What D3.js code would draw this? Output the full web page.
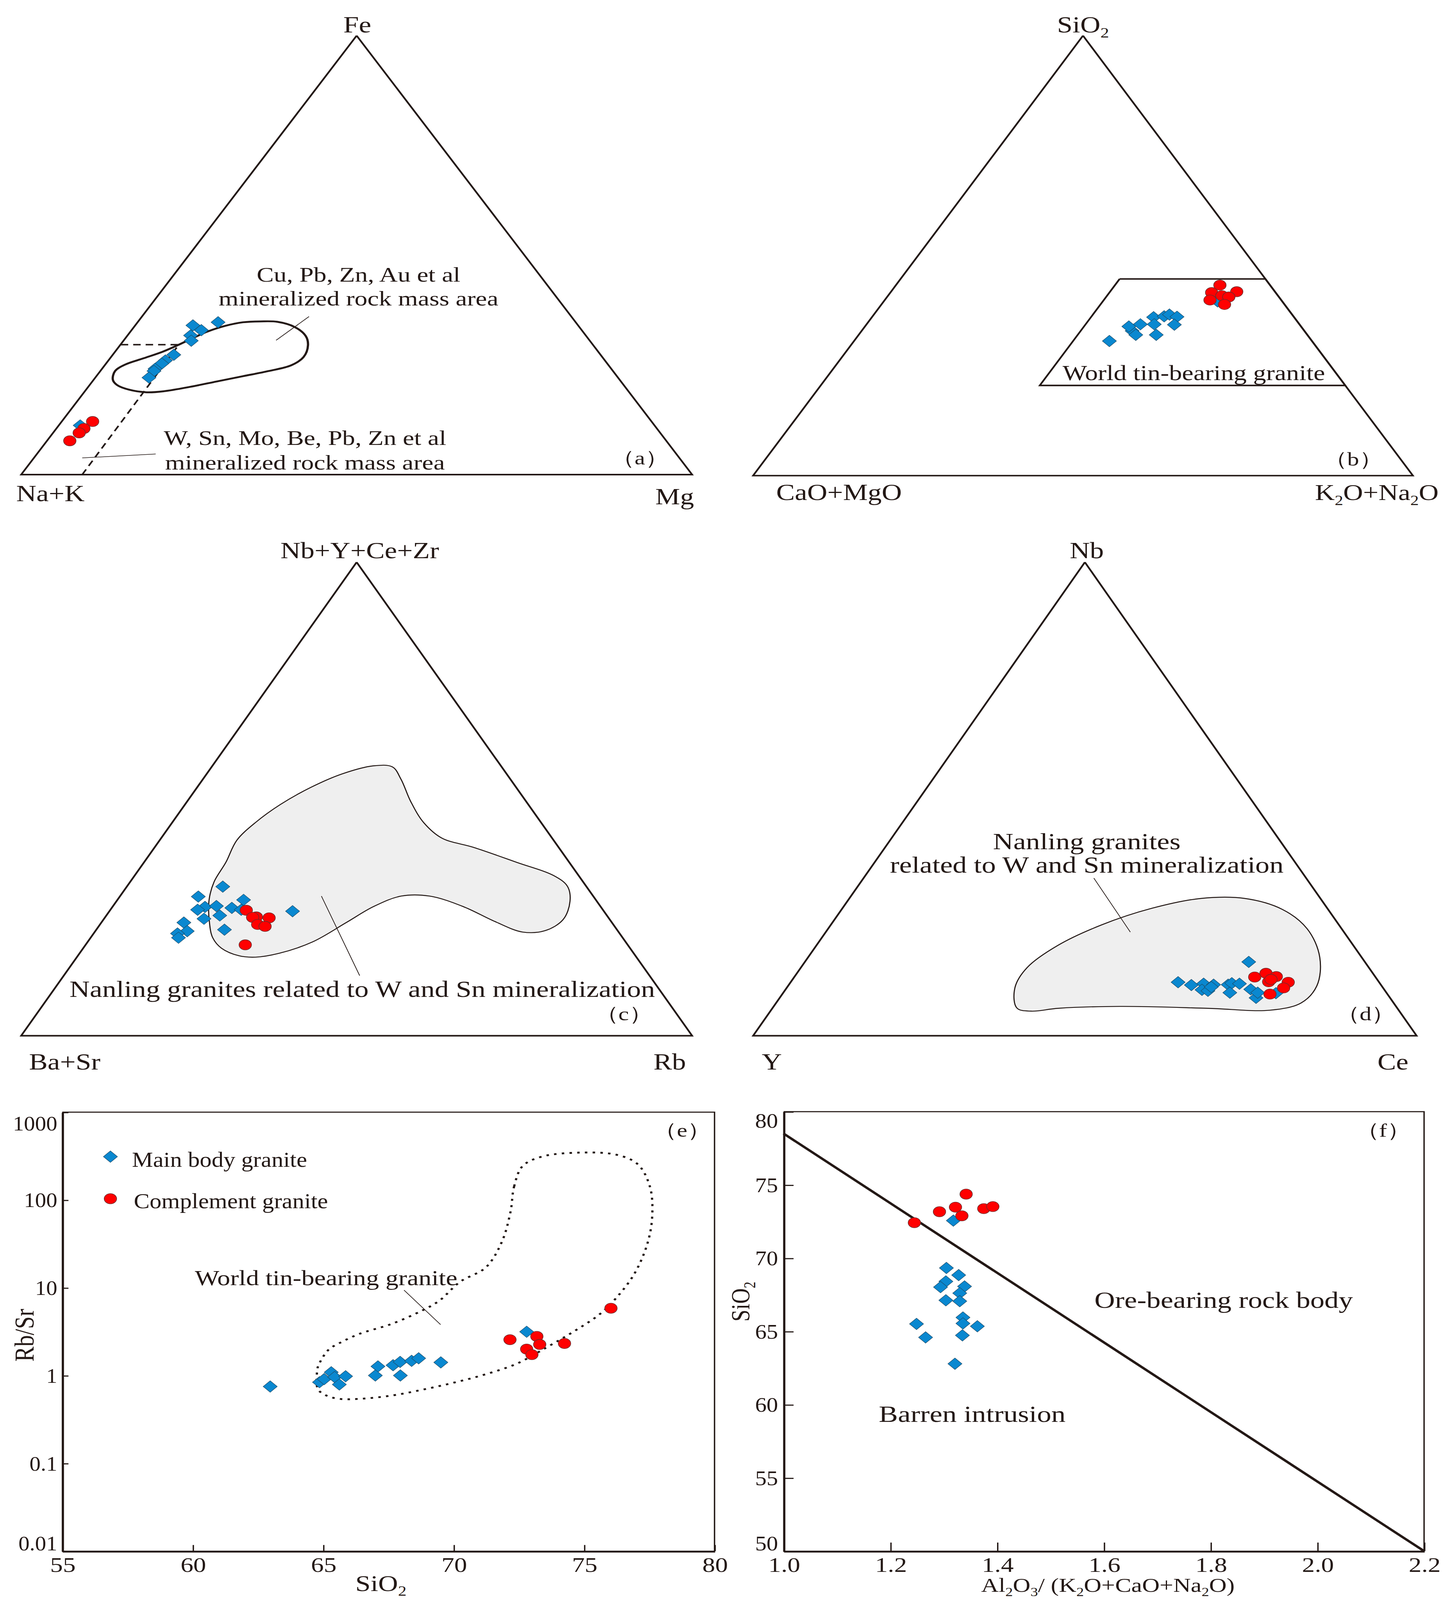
<!DOCTYPE html>
<meta charset="utf-8">
<style>
    html, body { margin: 0; padding: 0; background: #fff; overflow: hidden; }
    svg { display: block; width: 100vw; height: 100vh; }
    svg text { font-family: "Liberation Serif", "Times New Roman", serif; fill: #231815; }
</style>
<body>
<script src="https://cdn.jsdelivr.net/npm/d3@7"></script>
<script>
    // ternary data are stored as [top %, right %]; left = 100 - top - right

    // (a) Fe - (Na+K) - Mg : [Fe, Mg]
    var aMain = [[34.0, 8.6], [34.7, 12.0], [32.9, 10.4], [31.7, 9.4], [30.5, 10.1], [27.3, 9.1],
        [26.0, 8.5], [25.3, 8.3], [24.1, 7.9], [23.6, 8.0], [22.1, 8.0], [11.2, 3.2]];
    var aComp = [[12.1, 4.6], [10.5, 4.1], [9.5, 3.9], [7.7, 3.4]];
    var aField = [[23.6, 2.2], [25.1, 3.0], [26.5, 5.0], [28.0, 7.1], [29.6, 8.7], [31.4, 10.3], [32.6, 11.5],
        [33.9, 13.5], [34.7, 15.7], [34.9, 18.2], [34.8, 20.8], [33.6, 24.0], [31.6, 26.6], [29.5, 28.0],
        [26.8, 28.7], [24.9, 27.8], [23.6, 25.1], [22.4, 21.8], [21.2, 18.5], [20.0, 15.2], [19.0, 11.8],
        [18.75, 9.35], [19.35, 6.4], [20.4, 4.1], [21.55, 2.9]];
    var aDivide = [[0, 9.1], [29.6, 8.7], [29.6, 0]];
    var aLeaders = [[[30.6, 22.7], [36.0, 24.9]], [[3.8, 7.2], [4.7, 17.7]]];

    // (b) SiO2 - (CaO+MgO) - (K2O+Na2O) : [SiO2, K2O+Na2O]
    var bMain = [[30.6, 38.7], [32.9, 41.0], [32.0, 42.0], [33.9, 40.0], [34.4, 41.5], [36.0, 42.7], [34.4, 43.6],
        [32.0, 45.1], [36.2, 44.2], [36.6, 44.8], [36.1, 46.2], [34.3, 46.7], [39.6, 50.6]];
    var bComp = [[43.3, 49.1], [41.6, 48.7], [41.8, 52.4], [40.9, 50.6], [40.6, 51.8], [39.9, 49.3], [38.9, 52.0]];
    var bField = [[44.7, 33.2], [44.7, 55.3], [20.5, 79.5], [20.5, 33.2]];

    // (c) (Nb+Y+Ce+Zr) - (Ba+Sr) - Rb : [Nb+Y+Ce+Zr, Rb]
    var cMain = [[31.5, 14.3], [29.4, 11.7], [27.2, 13.8], [26.6, 13.0], [27.4, 15.4], [27.0, 17.9], [28.7, 18.8],
        [26.6, 19.5], [25.4, 16.9], [24.7, 14.9], [23.9, 12.3], [22.1, 13.7], [21.6, 12.5], [20.7, 13.1],
        [22.4, 19.1], [26.3, 27.3]];
    var cComp = [[26.5, 20.3], [25.1, 22.5], [25.0, 22.0], [24.9, 24.5], [23.5, 23.5], [23.1, 24.8], [19.2, 23.8]];
    var cField = [[36.6, 12.2], [41.3, 11.5], [45.0, 12.4], [48.8, 14.2], [52.5, 17.0], [55.3, 20.2], [57.0, 24.0],
        [56.8, 26.9], [54.2, 29.5], [49.5, 33.3], [45.0, 37.5], [41.7, 41.9], [39.8, 47.5], [36.6, 55.6],
        [33.8, 62.5], [31.6, 65.6], [28.4, 67.6], [24.5, 68.5], [22.2, 67.0], [21.9, 63.8], [24.1, 58.6],
        [27.3, 52.2], [29.5, 46.1], [29.5, 41.9], [27.3, 38.9], [23.9, 36.5], [19.8, 33.5], [17.4, 29.7],
        [16.6, 26.6], [16.9, 24.0], [18.5, 20.6], [20.7, 18.2], [24.1, 16.0], [28.6, 13.7], [32.5, 12.5]];
    var cLeader = [[29.5, 30.0], [12.7, 44.1]];

    // (d) Nb - Y - Ce : [Nb, Ce]
    var dMain = [[15.6, 66.9], [11.3, 58.4], [10.7, 60.7], [11.0, 62.4], [9.7, 62.8], [9.5, 63.8], [10.8, 64.0],
        [10.3, 63.9], [10.8, 66.2], [11.1, 66.6], [11.0, 67.8], [9.1, 67.3], [9.8, 70.1], [8.0, 71.8],
        [9.1, 71.5], [9.0, 74.3]];
    var dComp = [[12.4, 69.4], [13.2, 70.7], [12.5, 72.6], [11.4, 72.0], [11.9, 72.1], [11.3, 75.0], [10.1, 74.9], [8.8, 73.5]];
    var dField = [[5.8, 36.9], [10.1, 34.4], [14.4, 34.1], [19.1, 36.4], [23.4, 40.8], [26.9, 46.6], [29.0, 53.0],
        [29.0, 59.6], [26.7, 66.4], [22.6, 72.2], [16.6, 77.1], [10.5, 79.7], [6.9, 79.1], [5.4, 75.2],
        [5.8, 65.6], [6.2, 52.2], [5.8, 43.1], [5.2, 39.3]];
    var dLeader = [[33.3, 34.7], [21.9, 45.9]];

    // (e) SiO2 vs Rb/Sr
    var eSiO2Main = [62.97, 64.86, 65.04, 65.31, 65.44, 65.86, 65.62, 67.1, 67.0, 67.68, 67.95, 68.39, 68.66, 67.96, 69.51, 72.8];
    var eRbSrMain = [0.75, 0.84, 0.91, 1.09, 0.96, 0.98, 0.79, 1.27, 1.0, 1.31, 1.43, 1.47, 1.57, 1.0, 1.41, 3.15];
    var eSiO2Comp = [72.16, 73.19, 73.3, 72.8, 73.0, 74.25, 76.03];
    var eRbSrComp = [2.56, 2.79, 2.26, 2.0, 1.73, 2.32, 5.84];
    var eField = [[72.65, 244], [72.32, 143], [72.18, 73], [71.84, 32.9], [71.22, 16.9], [70.25, 11.7], [69.45, 7.11],
        [68.81, 5.53], [67.6, 3.85], [66.4, 2.99], [65.6, 2.32], [65.2, 1.96], [64.8, 1.26], [64.76, 1.06],
        [64.8, 0.70], [65.08, 0.60], [65.6, 0.543], [66.4, 0.543], [67.6, 0.59], [68.81, 0.69], [70.01, 0.83],
        [71.21, 1.03], [72.41, 1.36], [73.62, 2.14], [74.66, 3.25], [75.63, 5.08], [76.35, 8.4], [76.95, 14.8],
        [77.42, 31.3], [77.61, 64.3], [77.52, 143], [77.04, 258], [76.23, 328], [74.8, 346], [73.37, 311]];
    var eLeader = [[68.1, 9.4], [69.5, 3.8]];
    var eXTicks = [55, 60, 65, 70, 75, 80];
    var eYTicks = [0.01, 0.1, 1, 10, 100, 1000];
    var eYLabels = ["0.01", "0.1", "1", "10", "100", "1000"];

    // (f) A/CNK vs SiO2
    var fRatioMain = [1.318, 1.305, 1.328, 1.304, 1.294, 1.339, 1.33, 1.304, 1.33, 1.336, 1.336, 1.249, 1.363, 1.266, 1.335, 1.321];
    var fSiO2Main = [72.56, 69.33, 68.84, 68.41, 68.02, 68.07, 67.61, 67.12, 67.06, 65.95, 65.54, 65.51, 65.35, 64.59, 64.73, 62.79];
    var fRatioComp = [1.342, 1.292, 1.322, 1.334, 1.375, 1.392, 1.245];
    var fSiO2Comp = [74.37, 73.17, 73.48, 72.89, 73.38, 73.52, 72.42];
    var fLineX = [1.0, 2.2];
    var fLineY = [78.5, 50];
    var fXTicks = [1.0, 1.2, 1.4, 1.6, 1.8, 2.0, 2.2];
    var fXLabels = ["1.0", "1.2", "1.4", "1.6", "1.8", "2.0", "2.2"];
    var fYTicks = [50, 55, 60, 65, 70, 75, 80];

    /* drawing */
    var W = 1160, H = 1571;
    var ink = "#231815", blue = "#0a88d0", red = "#ff0000";

    // the drawing always fills the whole window, like the reference sheet
    var svg = d3.select("body").append("svg")
        .attr("viewBox", "0 0 " + W + " " + H)
        .attr("preserveAspectRatio", "none");

    svg.append("rect").attr("width", W).attr("height", H).attr("fill", "#fff");

    var diamond = d3.symbol().type(d3.symbolSquare).size(64)();
    var smooth = d3.curveCatmullRomClosed.alpha(0.5);

    function ternary(frame) {
        var x = d3.scaleLinear().domain([0, 100]).range([frame.xL, frame.xR]);
        var y = d3.scaleLinear().domain([0, 100]).range([frame.yBase, frame.yTop]);
        return function (d) { return [x(d[1] + d[0] / 2), y(d[0])]; };
    }

    function label(x, y, str, size, anchor) {
        return svg.append("text")
            .attr("x", x).attr("y", y)
            .attr("font-size", size)
            .attr("text-anchor", anchor || "middle")
            .text(str);
    }

    // narrow the glyphs a little, the source uses a condensed Times
    function condense(sel, k) {
        sel.each(function () {
            var n = this.getComputedTextLength();
            d3.select(this).attr("textLength", n * k).attr("lengthAdjust", "spacingAndGlyphs");
        });
    }

    // parts starting with "_" are subscripts
    function chem(x, y, parts, size, anchor) {
        var t = svg.append("text")
            .attr("x", x).attr("y", y)
            .attr("font-size", size)
            .attr("text-anchor", anchor || "middle");
        var shift = size * 0.22;
        parts.forEach(function (p, i) {
            if (p.charAt(0) === "_") {
                t.append("tspan").attr("dy", shift).attr("font-size", size * 0.62).text(p.slice(1));
            } else {
                var ts = t.append("tspan").text(p);
                if (i > 0) ts.attr("dy", -shift);
            }
        });
        return t;
    }

    function points(proj, main, comp) {
        svg.append("g").selectAll("path")
            .data(main).enter().append("path")
            .attr("d", diamond)
            .attr("transform", function (d) {
                var p = proj(d);
                return "translate(" + p[0] + "," + p[1] + ") rotate(45)";
            })
            .attr("fill", blue)
            .attr("stroke", "#1b4a66")
            .attr("stroke-width", 0.4);
        svg.append("g").selectAll("circle")
            .data(comp).enter().append("circle")
            .attr("cx", function (d) { return proj(d)[0]; })
            .attr("cy", function (d) { return proj(d)[1]; })
            .attr("r", 5)
            .attr("fill", red)
            .attr("stroke", "#6b2c2c")
            .attr("stroke-width", 0.5);
    }

    function line(proj, data, width) {
        return svg.append("path")
            .attr("d", d3.line().x(function (d) { return proj(d)[0]; }).y(function (d) { return proj(d)[1]; })(data))
            .attr("fill", "none")
            .attr("stroke", ink)
            .attr("stroke-width", width);
    }

    function triangle(proj) {
        line(proj, [[100, 0], [0, 0], [0, 100], [100, 0]], 1.5).attr("stroke-linejoin", "miter");
    }

    function field(proj, data, fill, width) {
        return svg.append("path")
            .attr("d", d3.line().curve(smooth)
                .x(function (d) { return proj(d)[0]; })
                .y(function (d) { return proj(d)[1]; })(data))
            .attr("fill", fill)
            .attr("stroke", ink)
            .attr("stroke-width", width);
    }

    // ---- (a) ----
    var pa = ternary({xL: 17, xR: 556, yBase: 466, yTop: 35});
    triangle(pa);
    field(pa, aField, "none", 1.8);
    line(pa, aDivide, 1.4).attr("stroke-dasharray", "6,4");
    aLeaders.forEach(function (l) { line(pa, l, 0.6); });
    points(pa, aMain, aComp);
    label(287, 32, "Fe", 22.4);
    label(40.5, 492, "Na+K", 22.4);
    label(542, 495, "Mg", 22.4);
    label(514, 456, "（a）", 19);
    label(288, 276.5, "Cu, Pb, Zn, Au et al", 20.6);
    label(288, 300, "mineralized rock mass area", 20.6);
    label(245, 437, "W, Sn, Mo, Be, Pb, Zn et al", 20.6);
    label(245, 461, "mineralized rock mass area", 20.6);

    // ---- (b) ----
    var pb = ternary({xL: 605, xR: 1135, yBase: 467, yTop: 35});
    triangle(pb);
    line(pb, bField.concat([bField[0]]), 1.5);
    points(pb, bMain, bComp);
    chem(870, 32, ["SiO", "_2"], 22.4);
    label(674, 491, "CaO+MgO", 22.4);
    chem(1106, 491, ["K", "_2", "O+Na", "_2", "O"], 22);
    label(1087, 457, "（b）", 19);
    label(959, 373, "World tin-bearing granite", 20.8);

    // ---- (c) ----
    var pc = ternary({xL: 17, xR: 556, yBase: 1017, yTop: 552});
    triangle(pc);
    field(pc, cField, "#efefef", 0.9);
    line(pc, cLeader, 0.6);
    points(pc, cMain, cComp);
    label(289, 548, "Nb+Y+Ce+Zr", 22.4);
    label(52, 1050, "Ba+Sr", 22.4);
    label(538, 1050, "Rb", 22.4);
    label(501, 1002, "（c）", 19);
    label(291, 979, "Nanling granites related to W and Sn mineralization", 22.6);

    // ---- (d) ----
    var pd = ternary({xL: 605, xR: 1138, yBase: 1017, yTop: 552});
    triangle(pd);
    field(pd, dField, "#efefef", 0.9);
    line(pd, dLeader, 0.6);
    points(pd, dMain, dComp);
    label(873, 548, "Nb", 22.4);
    label(620, 1050, "Y", 22.4);
    label(1119, 1050, "Ce", 22.4);
    label(1097, 1002, "（d）", 19);
    label(873, 834, "Nanling granites", 22.7);
    label(873, 857, "related to W and Sn mineralization", 22.7);

    // ---- (e) ----
    var ex = d3.scaleLinear().domain([55, 80]).range([50, 574]);
    var ey = d3.scaleLog().domain([0.01, 1000]).range([1523, 1092]);
    var pe = function (d) { return [ex(d[0]), ey(d[1])]; };

    svg.append("path")
        .attr("d", "M" + ex(55) + "," + ey(1000) + "H" + ex(80) + "V" + ey(0.01))
        .attr("fill", "none").attr("stroke", ink).attr("stroke-width", 1.1);

    var exAxis = svg.append("g")
        .attr("transform", "translate(0," + ey(0.01) + ")")
        .call(d3.axisBottom(ex).tickValues(eXTicks).tickFormat(d3.format("d"))
            .tickSizeInner(-6).tickSizeOuter(0).tickPadding(6));
    var eyAxis = svg.append("g")
        .attr("transform", "translate(" + ex(55) + ",0)")
        .call(d3.axisLeft(ey).tickValues(eYTicks).tickFormat(function (d, i) { return eYLabels[i]; })
            .tickSizeInner(-5).tickSizeOuter(0).tickPadding(4));

    field(pe, eField, "none", 1.8).attr("stroke-dasharray", "2,4.2").attr("stroke-linecap", "butt");
    line(pe, eLeader, 0.6);
    points(pe, d3.zip(eSiO2Main, eRbSrMain), d3.zip(eSiO2Comp, eRbSrComp));

    chem(306, 1562, ["SiO", "_2"], 22);
    label(27, 1311, "Rb/Sr", 22.2).attr("transform", "rotate(-90,27,1311)");
    label(548, 1116, "（e）", 19);
    label(262, 1262, "World tin-bearing granite", 20.8);

    // legend
    var legend = [["Main body granite", blue], ["Complement granite", red]];
    svg.append("path").attr("d", diamond)
        .attr("transform", "translate(88.7,1135.7) rotate(45)")
        .attr("fill", blue).attr("stroke", "#1b4a66").attr("stroke-width", 0.4);
    svg.append("circle").attr("cx", 88.7).attr("cy", 1177).attr("r", 5)
        .attr("fill", red).attr("stroke", "#6b2c2c").attr("stroke-width", 0.5);
    condense(label(106, 1145.5, legend[0][0], 21.4, "start"), 0.89);
    condense(label(107.5, 1186.5, legend[1][0], 21.4, "start"), 0.89);

    // ---- (f) ----
    var fx = d3.scaleLinear().domain([1.0, 2.2]).range([629.5, 1144]);
    var fy = d3.scaleLinear().domain([50, 80]).range([1523, 1091.5]);
    var pf = function (d) { return [fx(d[0]), fy(d[1])]; };

    svg.append("path")
        .attr("d", "M" + fx(1.0) + "," + fy(80) + "H" + fx(2.2) + "V" + fy(50))
        .attr("fill", "none").attr("stroke", ink).attr("stroke-width", 1.1);

    var fxAxis = svg.append("g")
        .attr("transform", "translate(0," + fy(50) + ")")
        .call(d3.axisBottom(fx).tickValues(fXTicks).tickFormat(function (d, i) { return fXLabels[i]; })
            .tickSizeInner(-8.4).tickSizeOuter(0).tickPadding(6));
    var fyAxis = svg.append("g")
        .attr("transform", "translate(" + fx(1.0) + ",0)")
        .call(d3.axisLeft(fy).tickValues(fYTicks).tickFormat(d3.format("d"))
            .tickSizeInner(-8).tickSizeOuter(0).tickPadding(4.5));

    line(pf, d3.zip(fLineX, fLineY), 2.2);
    points(pf, d3.zip(fRatioMain, fSiO2Main), d3.zip(fRatioComp, fSiO2Comp));

    chem(890, 1563, ["Al", "_2", "O", "_3", "/ (K", "_2", "O+CaO+Na", "_2", "O)"], 19.5);
    chem(602, 1278, ["SiO", "_2"], 21).attr("transform", "rotate(-90,602,1278)");
    label(1111, 1116, "（f）", 19);
    label(983, 1284, "Ore-bearing rock body", 22.8);
    label(781, 1396, "Barren intrusion", 23);

    // axis styling
    [exAxis, eyAxis, fxAxis, fyAxis].forEach(function (a) {
        a.attr("font-family", null).attr("font-size", null);
        a.select(".domain").attr("stroke", ink).attr("stroke-width", 1.8);
        a.selectAll(".tick line").attr("stroke", ink).attr("stroke-width", 1.1);
        a.selectAll(".tick text").attr("fill", ink).attr("font-size", 20.5);
    });
    condense(eyAxis.selectAll(".tick text"), 0.87);
    condense(fyAxis.selectAll(".tick text"), 0.9);
    // end labels sit inside the frame
    eyAxis.selectAll(".tick text").filter(function (d) { return d === 1000; }).attr("dy", "0.85em");
    eyAxis.selectAll(".tick text").filter(function (d) { return d === 0.01; }).attr("dy", "-0.05em");
    fyAxis.selectAll(".tick text").filter(function (d) { return d === 80; }).attr("dy", "0.75em");
    fyAxis.selectAll(".tick text").filter(function (d) { return d === 50; }).attr("dy", "-0.05em");
</script>
</body>
